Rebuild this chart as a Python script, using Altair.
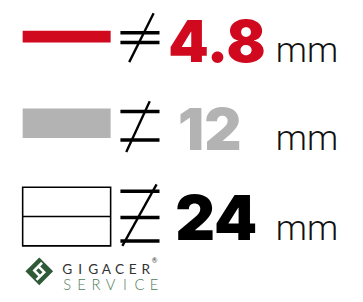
import altair as alt
import pandas as pd

# ---- data ----
labels = ["4.8", "12", "24"]
values = [4.8, 12, 24]
units = ["mm", "mm", "mm"]
logo_top = list("GIGACER")
logo_bottom = list("SERVICE")

# ---- styles / layout ----
colors = ["#d0091f", "#b3b3b3", "#000000"]
row_center = [34, 122.5, 218]
px_per_mm = 2.5
bar_x0, bar_x1 = 23, 113
neq_x0, neq_x1 = 123, 163
neq_lines = [[30, 40], [110.5, 139.7], [192, 219, 243]]
neq_slash = [(157, 10, 132, 60), (153, 100, 129, 152), (160, 185, 125, 248)]
num_x = [172, 182, 179]
num_base = [60, 150, 242]
num_size = [59, 59, 63]
unit_x = 282

X = alt.Scale(domain=[8, 363], nice=False, zero=False)
Y = alt.Scale(domain=[8, 302], nice=False, zero=False, reverse=True)


def xq(f):
    return alt.X(f, type="quantitative", scale=X, axis=None)


def yq(f):
    return alt.Y(f, type="quantitative", scale=Y, axis=None)


rows = pd.DataFrame({
    "label": labels, "value": values, "unit": units, "color": colors,
    "center": row_center, "nx": num_x, "nb": num_base, "ns": num_size,
})
rows["y0"] = rows["center"] - rows["value"] * px_per_mm / 2
rows["y1"] = rows["center"] + rows["value"] * px_per_mm / 2
rows["x0"] = bar_x0
rows["x1"] = bar_x1
rows["ux"] = unit_x

base = alt.Chart(rows)

filled = base.transform_filter("datum.value < 20").mark_rect().encode(
    x=xq("x0"), x2="x1", y=yq("y0"), y2="y1",
    fill=alt.Fill("color:N", scale=None),
)
outlined = base.transform_filter("datum.value >= 20").mark_rect(
    fill="white", stroke="black", strokeWidth=1.6
).encode(x=xq("x0"), x2="x1", y=yq("y0"), y2="y1")
midline = base.transform_filter("datum.value >= 20").mark_rule(
    color="black", strokeWidth=1.6
).encode(x=xq("x0"), x2="x1", y=yq("center"))

lines_df = pd.DataFrame(
    [{"y": y, "x0": neq_x0, "x1": neq_x1} for ys in neq_lines for y in ys]
)
neq_h = alt.Chart(lines_df).mark_rule(color="black", strokeWidth=3.6).encode(
    x=xq("x0"), x2="x1", y=yq("y")
)
slash_df = pd.DataFrame(neq_slash, columns=["xa", "ya", "xb", "yb"])
neq_s = alt.Chart(slash_df).mark_rule(color="black", strokeWidth=2.4).encode(
    x=xq("xa"), x2="xb", y=yq("ya"), y2="yb"
)

nums = base.mark_text(
    font="Inter, Lato, sans-serif", fontWeight=900, align="left", baseline="alphabetic"
).encode(
    x=xq("nx"), y=yq("nb"), text="label:N",
    color=alt.Color("color:N", scale=None),
    size=alt.Size("ns:Q", scale=None),
)
unit_txt = base.mark_text(
    font="Roboto, Open Sans, sans-serif", fontSize=36, fontWeight=300,
    align="left", baseline="alphabetic", color="#111111"
).encode(x=xq("ux"), y=yq("nb"), text="unit:N")

# logo
top_df = pd.DataFrame({"ch": logo_top, "i": range(len(logo_top))})
top_df["x"] = 68.5 + top_df["i"] * 13.4
top_df["y"] = 277
bot_df = pd.DataFrame({"ch": logo_bottom, "i": range(len(logo_bottom))})
bot_df["x"] = 68.5 + bot_df["i"] * 14.8
bot_df["y"] = 293
logo_t = alt.Chart(top_df).mark_text(
    font="Lato, sans-serif", fontWeight=400, fontSize=14, align="center",
    baseline="alphabetic", color="#333333"
).encode(x=xq("x"), y=yq("y"), text="ch:N")
logo_b = alt.Chart(bot_df).mark_text(
    font="Lato, sans-serif", fontWeight=300, fontSize=15, align="center",
    baseline="alphabetic", color="#4f7d57"
).encode(x=xq("x"), y=yq("y"), text="ch:N")
reg = alt.Chart(pd.DataFrame({"x": [158], "y": [266], "t": ["®"]})).mark_text(
    font="Lato, sans-serif", fontSize=7, align="center", baseline="alphabetic",
    color="#333333"
).encode(x=xq("x"), y=yq("y"), text="t:N")

icon_df = pd.DataFrame({"x": [40], "y": [274]})
icon = alt.Chart(icon_df).mark_point(
    shape="M0,-1L1,0L0,1L-1,0Z", filled=True, color="#2e5a38", size=800, opacity=1
).encode(x=xq("x"), y=yq("y"))
icon_s = alt.Chart(icon_df).mark_point(
    shape="M0.2,-0.62L-0.36,-0.06L0.06,0.36M-0.2,0.62L0.36,0.06L-0.06,-0.36",
    filled=False, color="white", size=800, strokeWidth=2.6, opacity=1
).encode(x=xq("x"), y=yq("y"))

chart = alt.layer(
    filled, outlined, midline, neq_h, neq_s, nums, unit_txt,
    icon, icon_s, logo_t, logo_b, reg
).properties(
    width=355, height=294, padding=0, autosize="none",
    background="white"
).configure_view(stroke=None)

chart.save("out.html", embed_options={"renderer": "svg", "actions": False})
